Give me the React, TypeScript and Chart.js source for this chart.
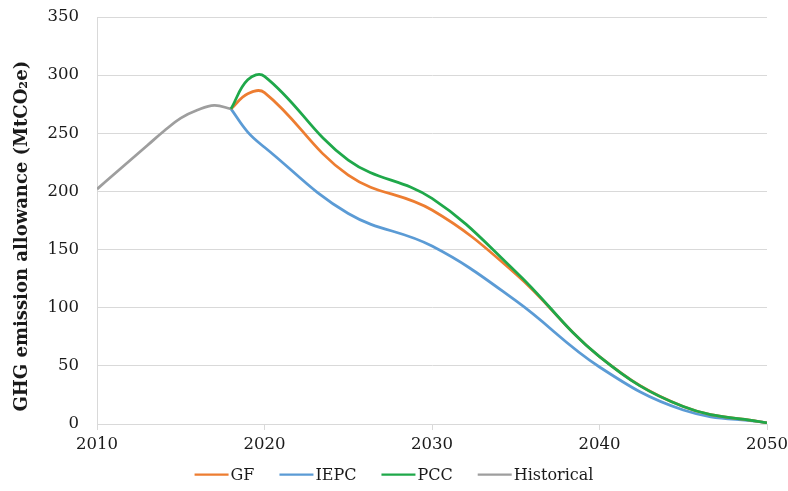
import React, { useEffect, useRef } from 'react';
import { Chart, registerables } from 'chart.js';

Chart.register(...registerables);

const historicalYears = [2010, 2011, 2012, 2013, 2014, 2015, 2016, 2017, 2018];
const historicalValues = [202, 214.5, 227, 239.5, 252, 263, 270, 274, 271];

const scenarioYears = [2018, 2019, 2020, 2025, 2030, 2035, 2040, 2045, 2050];
const gfValues = [271, 284, 285, 214, 184, 129, 58, 15, 1];
const iepcValues = [271, 251, 238, 181, 153, 106, 49, 12, 1];
const pccValues = [271, 296, 299, 227, 194, 131, 58, 15, 1];

const xTickValues = [2010, 2020, 2030, 2040, 2050];
const yTickValues = [0, 50, 100, 150, 200, 250, 300, 350];

const seriesNames = ['GF', 'IEPC', 'PCC', 'Historical'];
const seriesColors = ['#ED7D31', '#5B9BD5', '#1FA84A', '#9E9E9E'];

const yTitle = 'GHG emission allowance (MtCO\u2082e)';

const SERIF = '"DejaVu Serif", serif';
const TEXT = '#1A1A1A';
const GRID = '#D9D9D9';

const toPoints = (xs: number[], ys: number[]) => xs.map((x, i) => ({ x, y: ys[i] }));

const bottomLegend = {
  id: 'bottomLegend',
  afterDraw(chart: any) {
    const ctx = chart.ctx as CanvasRenderingContext2D;
    ctx.save();
    ctx.font = `16px ${SERIF}`;
    const lineLen = 34;
    const gap = 2;
    const itemGap = 25;
    const widths = seriesNames.map((n) => ctx.measureText(n).width);
    const total =
      widths.reduce((a, w) => a + lineLen + gap + w, 0) + itemGap * (seriesNames.length - 1);
    let x = chart.width / 2 - total / 2;
    const y = chart.height - 16.5;
    ctx.textBaseline = 'middle';
    ctx.textAlign = 'left';
    seriesNames.forEach((name, i) => {
      ctx.strokeStyle = seriesColors[i];
      ctx.lineWidth = 2.25;
      ctx.beginPath();
      ctx.moveTo(x, y);
      ctx.lineTo(x + lineLen, y);
      ctx.stroke();
      x += lineLen + gap;
      ctx.fillStyle = TEXT;
      ctx.fillText(name, x, y + 1);
      x += widths[i] + itemGap;
    });
    ctx.restore();
  },
};

export default function App() {
  const canvasRef = useRef<HTMLCanvasElement | null>(null);

  useEffect(() => {
    const canvas = canvasRef.current;
    if (!canvas) return;
    const lineDs = (label: string, data: any[], color: string, order: number) => ({
      label,
      data,
      borderColor: color,
      backgroundColor: color,
      borderWidth: 2.75,
      pointRadius: 0,
      pointHoverRadius: 0,
      tension: 0.4,
      fill: false,
      order,
    });
    const chart = new Chart(canvas, {
      type: 'line',
      data: {
        datasets: [
          lineDs(seriesNames[0], toPoints(scenarioYears, gfValues), seriesColors[0], 1),
          lineDs(seriesNames[1], toPoints(scenarioYears, iepcValues), seriesColors[1], 2),
          lineDs(seriesNames[2], toPoints(scenarioYears, pccValues), seriesColors[2], 0),
          lineDs(seriesNames[3], toPoints(historicalYears, historicalValues), seriesColors[3], 3),
        ],
      },
      options: {
        responsive: false,
        animation: false,
        devicePixelRatio: 1,
        layout: { padding: { left: 0, top: 17, right: 21, bottom: 0 } },
        plugins: {
          legend: { display: false },
          tooltip: { enabled: false },
        },
        scales: {
          x: {
            type: 'linear',
            min: 2010,
            max: 2050,
            afterBuildTicks: (scale: any) => {
              scale.ticks = xTickValues.map((v) => ({ value: v }));
            },
            afterFit: (scale: any) => {
              scale.height = 67;
              scale.paddingLeft = 0;
              scale.paddingRight = 0;
            },
            ticks: {
              callback: (v: any) => String(v),
              font: { family: SERIF, size: 16.5 },
              color: TEXT,
              padding: 5,
              maxRotation: 0,
            },
            grid: {
              drawOnChartArea: false,
              drawTicks: true,
              tickLength: 6,
              color: GRID,
              lineWidth: 1,
            },
            border: { display: true, color: GRID, width: 1 },
          },
          y: {
            min: 0,
            max: 350,
            afterBuildTicks: (scale: any) => {
              scale.ticks = yTickValues.map((v) => ({ value: v }));
            },
            afterFit: (scale: any) => {
              scale.width = 97;
              scale.paddingTop = 0;
              scale.paddingBottom = 0;
            },
            ticks: {
              callback: (v: any) => String(v),
              font: { family: SERIF, size: 16.5 },
              color: TEXT,
              padding: 18,
            },
            grid: {
              drawTicks: false,
              color: GRID,
              lineWidth: 1,
            },
            border: { display: true, color: GRID, width: 1 },
            title: {
              display: true,
              text: yTitle + '     ',
              font: { family: SERIF, size: 18, weight: 'bold' },
              color: TEXT,
              padding: { top: 12, bottom: 0 },
            },
          },
        },
      },
      plugins: [bottomLegend],
    } as any);
    return () => chart.destroy();
  }, []);

  return (
    <div style={{ position: 'fixed', left: 0, top: 0, width: 788, height: 491, background: '#fff' }}>
      <canvas ref={canvasRef} width={788} height={491} style={{ display: 'block' }} />
    </div>
  );
}
